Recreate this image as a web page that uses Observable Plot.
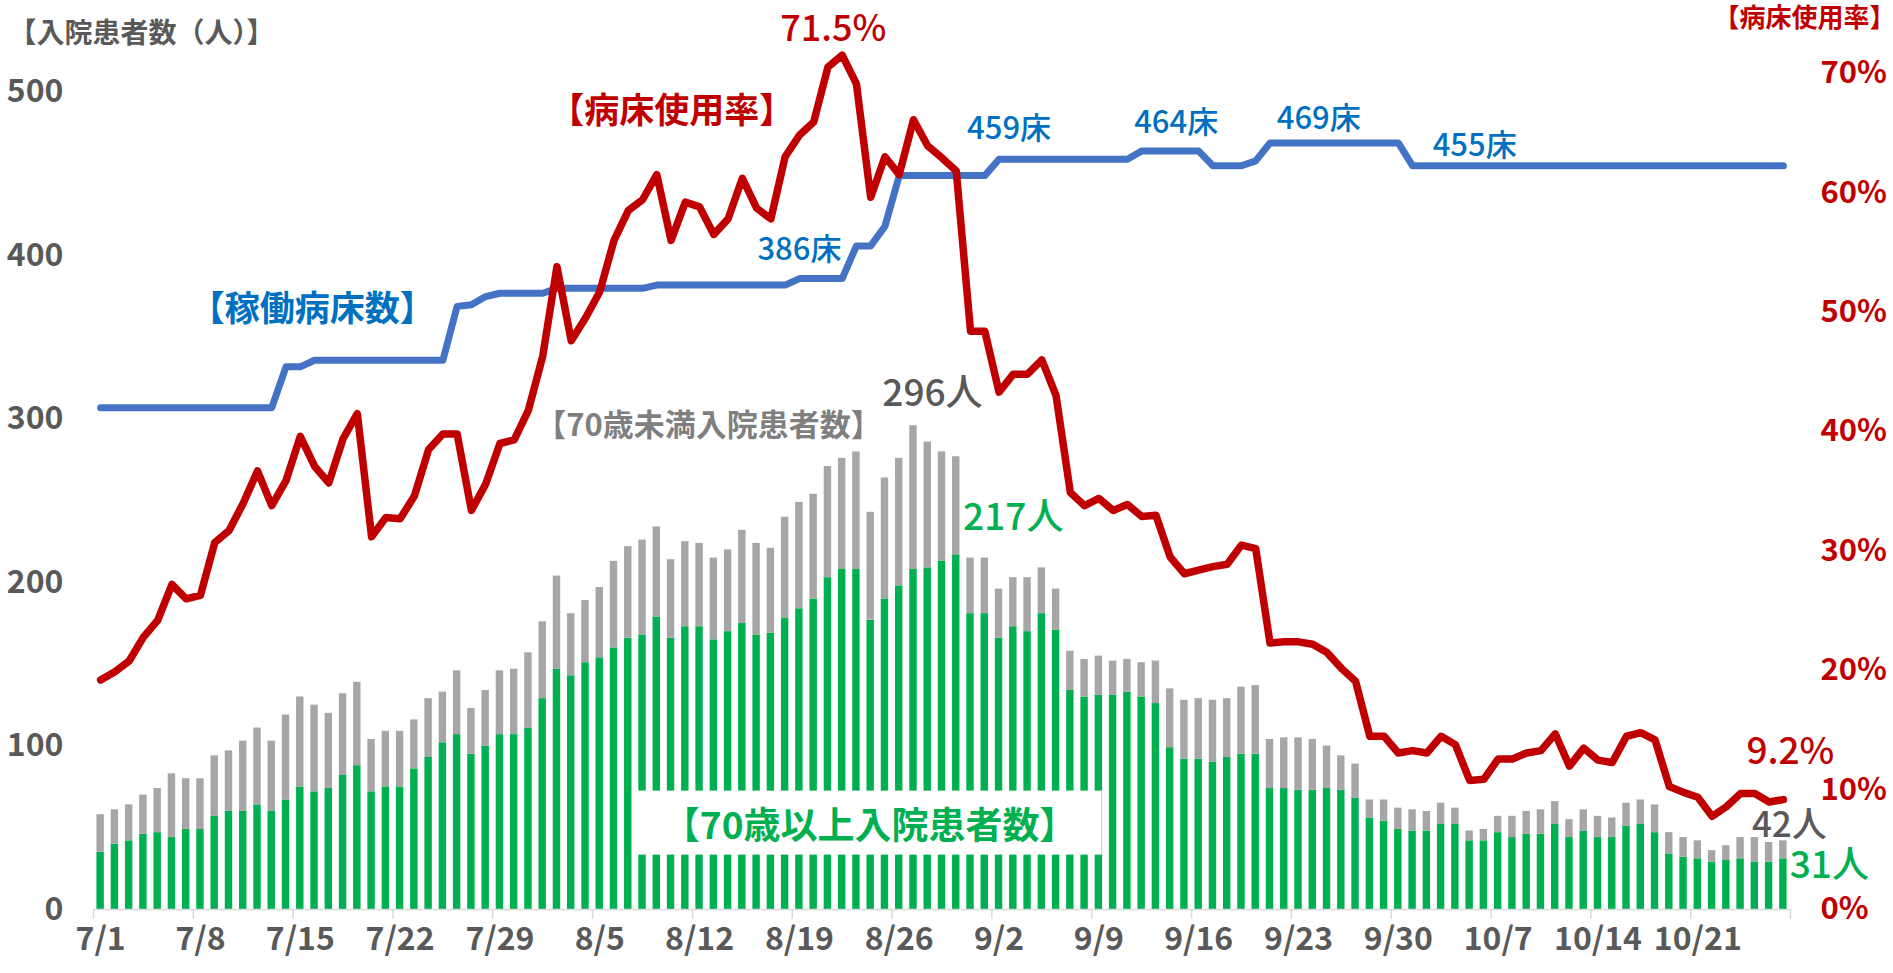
<!DOCTYPE html>
<html>
<head>
<meta charset="utf-8">
<script src="https://cdn.jsdelivr.net/npm/d3@7"></script>
<script src="https://cdn.jsdelivr.net/npm/@observablehq/plot@0.6"></script>
<style>
  body { margin: 0; background: #fff; }
  #chart svg { display: block; }
</style>
</head>
<body>
<div id="chart"></div>
<script>
// ---- data ----
const dates = [
  "7/1","7/2","7/3","7/4","7/5","7/6","7/7","7/8","7/9","7/10","7/11","7/12","7/13","7/14","7/15","7/16",
  "7/17","7/18","7/19","7/20","7/21","7/22","7/23","7/24","7/25","7/26","7/27","7/28","7/29","7/30","7/31",
  "8/1","8/2","8/3","8/4","8/5","8/6","8/7","8/8","8/9","8/10","8/11","8/12","8/13","8/14","8/15","8/16",
  "8/17","8/18","8/19","8/20","8/21","8/22","8/23","8/24","8/25","8/26","8/27","8/28","8/29","8/30","8/31",
  "9/1","9/2","9/3","9/4","9/5","9/6","9/7","9/8","9/9","9/10","9/11","9/12","9/13","9/14","9/15","9/16",
  "9/17","9/18","9/19","9/20","9/21","9/22","9/23","9/24","9/25","9/26","9/27","9/28","9/29","9/30",
  "10/1","10/2","10/3","10/4","10/5","10/6","10/7","10/8","10/9","10/10","10/11","10/12","10/13","10/14",
  "10/15","10/16","10/17","10/18","10/19","10/20","10/21","10/22","10/23","10/24","10/25","10/26","10/27"
];
// 70歳以上入院患者数
const over70 = [
  35,40,42,46,47,44,49, 49,57,60,60,64,60,67, 75,72,74,82,88,72,75, 75,86,93,102,107,95,100,
  107,107,111,129,147,143,151, 154,160,166,168,179,166,173, 173,165,170,175,168,169,178,
  184,190,203,208,208,177,190, 198,208,209,213,217,181,181, 166,173,170,181,171,134,130,
  131,131,133,130,126,99,92, 92,90,93,95,95,74,74, 73,73,74,73,68,56,54,
  49,48,48,52,52,42,42, 47,44,46,46,52,44,48, 44,44,51,52,47,34,32, 31,29,30,31,29,29,31
];
// 70歳未満入院患者数
const under70 = [
  23,21,22,24,27,39,31, 31,37,37,43,47,43,52, 55,53,46,50,51,32,34, 34,30,36,31,39,28,34,
  39,40,46,47,57,38,38, 43,53,56,58,55,48,52, 51,50,50,57,56,52,62,
  65,64,68,68,72,66,74, 78,88,77,67,60,34,34, 30,30,33,28,25,24,23,
  24,21,20,21,26,36,36, 37,38,36,41,42,30,31, 32,31,26,21,21,11,13,
  13,13,12,13,10,6,7, 10,13,14,15,14,11,13, 13,12,14,15,17,13,12, 11,7,9,13,15,12,11
];
// 稼働病床数
const beds = [
  307,307,307,307,307,307,307, 307,307,307,307,307,307,332, 332,336,336,336,336,336,336,
  336,336,336,336,369,370,375, 377,377,377,377,380,380,380, 380,380,380,380,382,382,382,
  382,382,382,382,382,382,382, 386,386,386,386,406,406,418, 449,449,449,449,449,449,449,
  459,459,459,459,459,459,459, 459,459,459,464,464,464,464, 464,455,455,455,458,469,469,
  469,469,469,469,469,469,469, 469,455,455,455,455,455,455, 455,455,455,455,455,455,455,
  455,455,455,455,455,455,455, 455,455,455,455,455,455,455
];
// 病床使用率 (%)
const rate = [
  19.2,19.9,20.8,22.8,24.2,27.2,26.0, 26.3,30.7,31.7,34.0,36.7,33.8,35.9,
  39.6,37.1,35.7,39.4,41.5,31.2,32.8, 32.7,34.6,38.5,39.8,39.8,33.4,35.6,
  39.0,39.3,41.8,46.3,53.8,47.6,49.5, 51.7,56.0,58.5,59.4,61.5,56.0,59.2,
  58.8,56.5,57.8,61.2,58.7,57.8,63.0, 64.8,65.9,70.5,71.5,69.1,59.6,63.0,
  61.5,66.1,63.9,62.9,61.8,48.4,48.4, 43.3,44.8,44.8,46.0,43.0,34.9,33.8,
  34.4,33.4,33.9,32.9,33.0,29.5,28.1, 28.4,28.7,28.9,30.5,30.2,22.3,22.4,
  22.4,22.2,21.5,20.2,19.1,14.5,14.5, 13.1,13.3,13.1,14.5,13.8,10.8,10.9,
  12.6,12.6,13.1,13.3,14.7,12.0,13.5, 12.5,12.3,14.5,14.8,14.2,10.3,9.8,
  9.4,7.8,8.6,9.7,9.7,9.0,9.2
];
const countTicks = [0, 100, 200, 300, 400, 500];
const rateTicks = [0, 10, 20, 30, 40, 50, 60, 70];
const weekLabels = ["7/1","7/8","7/15","7/22","7/29","8/5","8/12","8/19","8/26","9/2","9/9","9/16","9/23","9/30","10/7","10/14","10/21"];

// ---- layout ----
const K = 7.31; // left-axis units per 1% of right axis
const W = 1893, H = 973, ML = 93, MR = 103, MT = 10, MB = 64;
const step = (W - ML - MR) / dates.length;
const FONT = "'Noto Sans CJK JP', 'Noto Sans', sans-serif";
const GRAY = "#595959", RED = "#C00000", GREEN = "#00B050", BLUE = "#0070C0";

const rows = dates.map((d, i) => ({
  date: d, over70: over70[i], under70: under70[i], total: over70[i] + under70[i],
  beds: beds[i], rate: rate[i]
}));
const row = d => rows[dates.indexOf(d)];
const last = dates[dates.length - 1];

function note(label, date, yv, opts) {
  return Plot.text([label], {x: () => date, y: () => yv, text: d => d, textAnchor: "middle", lineAnchor: "middle", ...opts});
}
const boxLabel = "【70歳以上入院患者数】";

const chart = Plot.plot({
  width: W, height: H,
  marginLeft: ML, marginRight: MR, marginTop: MT, marginBottom: MB,
  style: {fontFamily: FONT, background: "#fff", overflow: "visible"},
  x: {type: "band", domain: dates, paddingInner: 0.48, paddingOuter: 0.24, axis: null},
  y: {domain: [0, 550], axis: null},
  marks: [
    Plot.barY(rows, {x: "date", y1: 0, y2: "over70", fill: GREEN}),
    Plot.barY(rows, {x: "date", y1: "over70", y2: "total", fill: "#A6A6A6"}),
    Plot.ruleY([0], {stroke: "#D9D9D9", strokeWidth: 1.5}),
    Plot.ruleX(weekLabels, {x: d => d, y1: 0, y2: -6, dx: -step / 2, stroke: "#D9D9D9", strokeWidth: 1.5}),
    Plot.ruleX([last], {x: d => d, y1: 0, y2: -6, dx: step / 2, stroke: "#D9D9D9", strokeWidth: 1.5}),
    Plot.lineY(rows, {x: "date", y: "beds", stroke: "#4472C4", strokeWidth: 7, strokeLinecap: "round", strokeLinejoin: "round"}),
    Plot.lineY(rows, {x: "date", y: d => d.rate * K, stroke: RED, strokeWidth: 7.5, strokeLinecap: "round", strokeLinejoin: "round"}),

    // axes
    Plot.text(countTicks, {y: d => d, frameAnchor: "left", dx: -30, textAnchor: "end", text: d => String(d), fill: GRAY, fontSize: 32, fontWeight: "bold"}),
    Plot.text(rateTicks, {y: d => d * K, frameAnchor: "right", dx: 30, textAnchor: "start", text: d => d + "%", fill: RED, fontSize: 31, fontWeight: "bold"}),
    Plot.text(weekLabels, {x: d => d, frameAnchor: "bottom", dy: 40, text: d => d, fill: GRAY, fontSize: 32, fontWeight: "bold"}),
    Plot.text(["【入院患者数（人）】"], {frameAnchor: "top-left", dx: 48, dy: 24, textAnchor: "middle", lineAnchor: "middle", fill: GRAY, fontSize: 28, fontWeight: "bold"}),
    Plot.text(["【病床使用率】"], {frameAnchor: "top-right", dx: 14, dy: 8, textAnchor: "middle", lineAnchor: "middle", fill: RED, fontSize: 26, fontWeight: "bold"}),

    // series labels
    note("【稼働病床数】", "7/15", row("7/15").beds, {dx: 12, dy: -57, fill: BLUE, fontSize: 35, fontWeight: "bold"}),
    note("【病床使用率】", "8/9", row("8/9").rate * K, {dx: 15, dy: -63, fill: RED, fontSize: 35, fontWeight: "bold"}),
    note("【70歳未満入院患者数】", "8/12", row("8/12").total, {dx: 9, dy: -117, fill: "#7F7F7F", fontSize: 31, fontWeight: "bold"}),
    note(boxLabel, "8/24", 50, {dx: -1, dy: -1, fill: GREEN, fontSize: 37, fontWeight: "bold"}),

    // value labels
    note("71.5%", "8/22", row("8/22").rate * K, {dx: -9, dy: -26, fill: RED, fontSize: 36, fontWeight: 500}),
    note("296人", "8/27", row("8/27").total, {dx: 19, dy: -32, fill: GRAY, fontSize: 37, fontWeight: 500}),
    note("217人", "8/30", row("8/30").over70, {dx: 57, dy: -37, fill: GREEN, fontSize: 37, fontWeight: 500}),
    note("386床", "8/19", row("8/19").beds, {dx: 0, dy: -28, fill: BLUE, fontSize: 31, fontWeight: 500}),
    note("459床", "9/2", row("9/2").beds, {dx: 10, dy: -30, fill: BLUE, fontSize: 31, fontWeight: 500}),
    note("464床", "9/14", row("9/14").beds, {dx: 6, dy: -28, fill: BLUE, fontSize: 31, fontWeight: 500}),
    note("469床", "9/24", row("9/24").beds, {dx: 6, dy: -24, fill: BLUE, fontSize: 31, fontWeight: 500}),
    note("455床", "10/5", row("10/5").beds, {dx: 5, dy: -20, fill: BLUE, fontSize: 31, fontWeight: 500}),
    note("9.2%", last, row(last).rate * K, {dx: 7, dy: -47, fill: RED, fontSize: 37, fontWeight: 500}),
    note("42人", last, row(last).total, {dx: 6, dy: -15, fill: GRAY, fontSize: 35, fontWeight: 500}),
    note("31人", last, row(last).over70, {dx: 46, dy: 7, fill: GREEN, fontSize: 37, fontWeight: 500})
  ]
});

document.getElementById("chart").append(chart);

// white box behind the 70歳以上 label
d3.select(chart).selectAll("text")
  .filter(function () { return this.textContent === boxLabel; })
  .each(function () {
    const b = this.getBBox();
    const bw = 464, bh = 64;
    const cx = b.x + b.width / 2, cy = b.y + b.height / 2;
    const r = document.createElementNS("http://www.w3.org/2000/svg", "rect");
    r.setAttribute("x", cx - bw / 2);
    r.setAttribute("y", cy - bh / 2);
    r.setAttribute("width", bw);
    r.setAttribute("height", bh);
    r.setAttribute("fill", "#fff");
    const tr = this.getAttribute("transform");
    if (tr) r.setAttribute("transform", tr);
    this.parentNode.insertBefore(r, this);
  });
</script>
</body>
</html>
